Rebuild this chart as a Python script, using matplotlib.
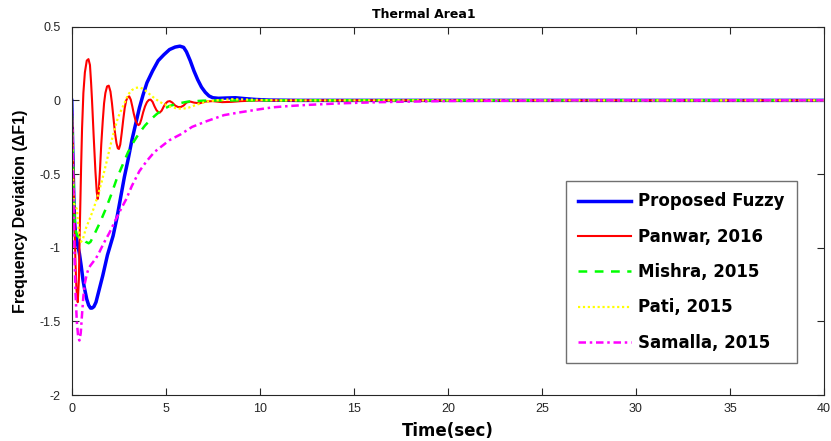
import numpy as np
import matplotlib
matplotlib.use("Agg")
import matplotlib.pyplot as plt

# readings (time in s, deviation)
t_fuzzy = [0, 0.05, 0.1, 0.15, 0.2, 0.25, 0.33, 0.41, 0.5, 0.6, 0.67, 0.8, 0.9, 1.0, 1.08,
           1.18, 1.29, 1.45, 1.65, 1.9, 2.2, 2.4, 2.6, 2.8, 3.0, 3.2, 3.4, 3.6, 3.8, 4.0,
           4.3, 4.6, 4.9, 5.2, 5.5, 5.75, 5.95, 6.1, 6.3, 6.5, 6.7, 6.9, 7.1, 7.3, 7.5,
           7.8, 8.2, 8.7, 9.2, 9.8, 10.5, 12, 40]
v_fuzzy = [0, -0.3, -0.6, -0.82, -0.9, -0.94, -0.99, -1.04, -1.12, -1.22, -1.27, -1.35, -1.39, -1.41, -1.41,
           -1.4, -1.37, -1.29, -1.19, -1.05, -0.92, -0.8, -0.66, -0.52, -0.4, -0.27, -0.16, -0.05, 0.04, 0.12,
           0.2, 0.27, 0.31, 0.345, 0.362, 0.368, 0.36, 0.33, 0.27, 0.2, 0.14, 0.09, 0.055, 0.03, 0.018,
           0.014, 0.016, 0.018, 0.012, 0.006, 0.002, 0, 0]

t_panwar = [0, 0.05, 0.1, 0.15, 0.2, 0.25, 0.32, 0.38, 0.43, 0.5, 0.55, 0.62, 0.7, 0.8, 0.89,
            0.97, 1.03, 1.08, 1.17, 1.26, 1.33, 1.38, 1.43, 1.5, 1.57, 1.65, 1.72, 1.79, 1.88, 1.97,
            2.06, 2.14, 2.22, 2.3, 2.38, 2.45, 2.51, 2.58, 2.66, 2.74, 2.82, 2.9, 2.98, 3.06, 3.14,
            3.22, 3.3, 3.38, 3.46, 3.55, 3.62, 3.7, 3.8, 3.9, 4.0, 4.1, 4.2, 4.3, 4.4, 4.5,
            4.6, 4.68, 4.78, 4.9, 5.0, 5.1, 5.22, 5.35, 5.5, 5.65, 5.8, 5.95, 6.1, 6.3, 6.5,
            6.8, 7.1, 7.5, 8.0, 8.5, 9.0, 10, 40]
v_panwar = [0, -0.25, -0.55, -0.85, -1.1, -1.28, -1.37, -1.22, -0.87, -0.45, -0.19, 0.05, 0.19, 0.27, 0.28,
            0.24, 0.12, 0.0, -0.25, -0.48, -0.62, -0.67, -0.63, -0.48, -0.3, -0.14, -0.02, 0.05, 0.095, 0.1,
            0.06, -0.02, -0.12, -0.22, -0.29, -0.325, -0.33, -0.3, -0.22, -0.13, -0.05, 0.0, 0.022, 0.027, 0.005,
            -0.04, -0.09, -0.13, -0.155, -0.168, -0.16, -0.13, -0.08, -0.04, -0.012, 0.003, 0.005, -0.01, -0.04, -0.065,
            -0.08, -0.083, -0.07, -0.04, -0.02, -0.008, -0.005, -0.015, -0.035, -0.045, -0.045, -0.035, -0.015, -0.008, -0.015,
            -0.02, -0.008, -0.005, -0.012, -0.01, -0.005, 0, 0]

t_mishra = [0, 0.05, 0.1, 0.15, 0.2, 0.3, 0.4, 0.5, 0.6, 0.75, 0.9, 1.0, 1.2, 1.5, 1.8,
            2.1, 2.4, 2.7, 3.0, 3.3, 3.6, 3.9, 4.2, 4.5, 4.8, 5.2, 5.7, 6.2, 7, 8, 40]
v_mishra = [0, -0.3, -0.6, -0.8, -0.88, -0.92, -0.93, -0.93, -0.94, -0.96, -0.97, -0.96, -0.91, -0.83, -0.74,
            -0.64, -0.53, -0.44, -0.35, -0.28, -0.22, -0.17, -0.13, -0.095, -0.065, -0.038, -0.02, -0.008, -0.002, 0, 0]

t_pati = [0, 0.04, 0.08, 0.12, 0.2, 0.28, 0.35, 0.42, 0.5, 0.6, 0.75, 0.94, 1.15, 1.38, 1.6,
          1.83, 2.05, 2.27, 2.45, 2.62, 2.8, 3.0, 3.2, 3.4, 3.6, 3.8, 4.0, 4.2, 4.45, 4.7,
          5.0, 5.3, 5.6, 5.9, 6.2, 6.55, 6.9, 7.2, 7.6, 8.5, 9.5, 11, 40]
v_pati = [0, -0.3, -0.6, -0.7, -0.72, -0.74, -0.85, -0.93, -0.96, -0.94, -0.87, -0.81, -0.74, -0.65, -0.55,
          -0.43, -0.31, -0.2, -0.12, -0.07, -0.02, 0.04, 0.07, 0.085, 0.088, 0.078, 0.058, 0.035, 0.01, -0.012,
          -0.03, -0.045, -0.055, -0.057, -0.05, -0.034, -0.018, -0.008, 0.0, 0.008, 0.005, 0, 0]

t_samalla = [0, 0.05, 0.1, 0.15, 0.2, 0.27, 0.34, 0.41, 0.48, 0.55, 0.62, 0.7, 0.8, 0.9, 1.0,
             1.12, 1.3, 1.47, 1.7, 2.0, 2.3, 2.57, 2.9, 3.2, 3.6, 4.0, 4.4, 4.8, 5.2, 5.8,
             6.4, 7.2, 8.1, 9.0, 10.0, 10.7, 11.6, 12.5, 14.3, 16.1, 18, 20, 23, 26, 40]
v_samalla = [0, -0.35, -0.75, -1.05, -1.3, -1.5, -1.6, -1.63, -1.58, -1.45, -1.33, -1.24, -1.18, -1.14, -1.12,
             -1.1, -1.07, -1.03, -0.97, -0.9, -0.82, -0.75, -0.67, -0.58, -0.48, -0.41, -0.35, -0.31, -0.27, -0.23,
             -0.18, -0.14, -0.1, -0.08, -0.06, -0.047, -0.038, -0.031, -0.02, -0.013, -0.008, -0.004, -0.002, 0, 0]

labels = ["Proposed Fuzzy", "Panwar, 2016", "Mishra, 2015", "Pati, 2015", "Samalla, 2015"]
xticks = [0, 5, 10, 15, 20, 25, 30, 35, 40]
yticks = [-2, -1.5, -1, -0.5, 0, 0.5]
ytick_labels = ["-2", "-1.5", "-1", "-0.5", "0", "0.5"]

fig = plt.figure(figsize=(8.31, 4.41), dpi=100)
ax = fig.add_axes([0.0863, 0.1043, 0.9053, 0.8351])

ax.plot(t_fuzzy, v_fuzzy, color=(0, 0, 1), linewidth=2.5, label=labels[0])
ax.plot(t_panwar, v_panwar, color=(1, 0, 0), linewidth=1.5, label=labels[1])
ax.plot(t_mishra, v_mishra, color=(0, 1, 0), linewidth=1.8, dashes=(3.5, 3), label=labels[2])
ax.plot(t_pati, v_pati, color=(1, 1, 0), linewidth=1.6, dashes=(1, 1.2), label=labels[3])
ax.plot(t_samalla, v_samalla, color=(1, 0, 1), linewidth=1.8, dashes=(3, 1.5, 1, 1.5), label=labels[4])

ax.set_xlim(0, 40)
ax.set_ylim(-2, 0.5)
ax.set_xticks(xticks)
ax.set_xticklabels([str(x) for x in xticks], fontfamily="Liberation Sans", fontsize=9)
ax.set_yticks(yticks)
ax.set_yticklabels(ytick_labels, fontfamily="Liberation Sans", fontsize=9)
ax.tick_params(direction="in", top=True, right=True, length=5, width=0.8, colors="#262626")
ax.tick_params(axis="y", pad=8)
ax.tick_params(axis="x", pad=6)
for s in ax.spines.values():
    s.set_color("#262626")
    s.set_linewidth(0.8)

ax.set_title("Thermal Area1", fontfamily="DejaVu Sans", fontweight="bold", fontsize=9,
             pad=6, x=0.468)
ax.set_xlabel("Time(sec)", fontfamily="DejaVu Sans", fontweight="bold", fontsize=12, labelpad=5)
ax.set_ylabel("Frequency Deviation (\u0394F1)", fontfamily="Liberation Sans", fontweight="bold",
              fontsize=11.5, labelpad=8)

leg = ax.legend(loc="upper left", bbox_to_anchor=(566 / 831, 1 - 180.7 / 441),
                bbox_transform=fig.transFigure, borderaxespad=0, fancybox=False,
                framealpha=1, edgecolor="#707070", handlelength=3.2, handletextpad=0.45,
                labelspacing=1.04, borderpad=0.7,
                prop={"family": "DejaVu Sans", "weight": "bold", "size": 12})
leg.get_frame().set_linewidth(1.0)

fig.savefig("out.png", dpi=100)
